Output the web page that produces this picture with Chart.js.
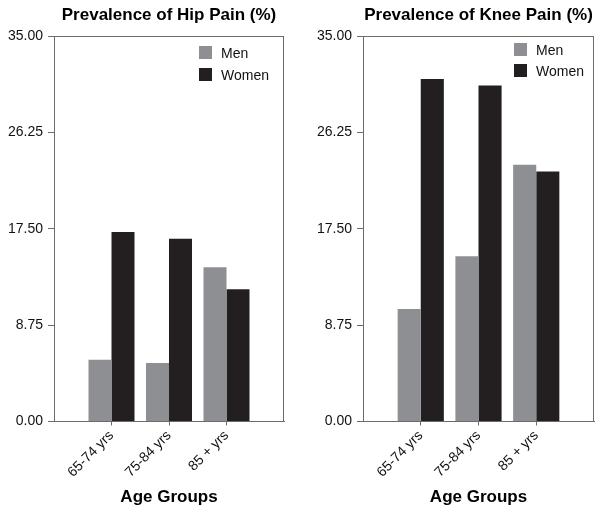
<!DOCTYPE html>
<html>
<head>
<meta charset="utf-8">
<script src="https://cdn.jsdelivr.net/npm/chart.js@4/dist/chart.umd.min.js"></script>
<style>
  body { margin: 0; background: #fff; }
  #wrap { position: relative; width: 601px; height: 511px; }
  canvas { position: absolute; top: 0; }
</style>
</head>
<body>
<div id="wrap">
  <canvas id="hipChart" width="300" height="511" style="left:0"></canvas>
  <canvas id="kneeChart" width="301" height="511" style="left:300px"></canvas>
</div>
<script>
const ageGroups = ['65-74 yrs', '75-84 yrs', '85 + yrs'];
const seriesNames = ['Men', 'Women'];
const hipMen = [5.6, 5.3, 14.0];
const hipWomen = [17.2, 16.6, 12.0];
const kneeMen = [10.2, 15.0, 23.3];
const kneeWomen = [31.1, 30.5, 22.7];
const yTicks = [0, 8.75, 17.5, 26.25, 35];

const FONT = '"Liberation Sans", Arial, sans-serif';
const MEN_COLOR = '#8e8f93';
const WOMEN_COLOR = '#231f20';
const AXIS_COLOR = '#6b6b6b';

Chart.defaults.font.family = FONT;
Chart.defaults.color = '#111';

// box round the plot, title over the plot area, legend inside it
const panelPlugin = {
  id: 'panel',
  afterDraw(chart, args, opts) {
    const { ctx, chartArea: a } = chart;
    ctx.save();
    ctx.strokeStyle = AXIS_COLOR;
    ctx.lineWidth = 1;
    ctx.strokeRect(Math.round(a.left) + 0.5, Math.round(a.top) + 0.5,
      Math.round(a.right - a.left) - 1, Math.round(a.bottom - a.top));

    ctx.fillStyle = '#000';
    ctx.font = 'bold 17px ' + FONT;
    ctx.textAlign = 'center';
    ctx.textBaseline = 'middle';
    ctx.fillText(opts.title, (a.left + a.right) / 2, 15);

    ctx.font = '14px ' + FONT;
    ctx.textAlign = 'left';
    chart.data.datasets.forEach((ds, i) => {
      const x = a.right - opts.legendRight;
      const y = a.top + opts.legendTop + i * opts.legendGap;
      ctx.fillStyle = ds.backgroundColor;
      ctx.fillRect(x, y, 13, 13);
      ctx.fillStyle = '#111';
      ctx.fillText(ds.label, x + 22, y + 8);
    });
    ctx.restore();
  }
};

function makeChart(id, title, men, women, cfg) {
  return new Chart(document.getElementById(id), {
    type: 'bar',
    data: {
      datasets: [
        {
          label: seriesNames[0],
          data: men.map((v, i) => ({ x: i + 1, y: v })),
          backgroundColor: MEN_COLOR,
          categoryPercentage: 0.8,
          barPercentage: 1.0
        },
        {
          label: seriesNames[1],
          data: women.map((v, i) => ({ x: i + 1, y: v })),
          backgroundColor: WOMEN_COLOR,
          categoryPercentage: 0.8,
          barPercentage: 1.0
        }
      ]
    },
    options: {
      responsive: false,
      animation: false,
      layout: { padding: { top: 36, left: 0, right: cfg.padRight, bottom: 3 } },
      plugins: {
        legend: { display: false },
        tooltip: { enabled: false },
        panel: { title: title, legendRight: cfg.legendRight, legendTop: cfg.legendTop, legendGap: cfg.legendGap }
      },
      scales: {
        x: {
          type: 'linear',
          min: 0,
          max: ageGroups.length + 1,
          offset: false,
          afterBuildTicks: axis => { axis.ticks = ageGroups.map((g, i) => ({ value: i + 1 })); },
          ticks: {
            callback: v => ageGroups[v - 1],
            minRotation: 45,
            maxRotation: 45,
            autoSkip: false,
            padding: 2,
            font: { size: 14 }
          },
          grid: { drawOnChartArea: false, offset: false, tickLength: 4, color: AXIS_COLOR },
          border: { color: AXIS_COLOR },
          title: {
            display: true,
            text: 'Age Groups',
            color: '#000',
            font: { size: 17, weight: 'bold' },
            padding: { top: 5, bottom: 0 }
          }
        },
        y: {
          min: 0,
          max: 35,
          afterBuildTicks: axis => { axis.ticks = yTicks.map(v => ({ value: v })); },
          afterFit: axis => { axis.width = cfg.axisWidth; },
          ticks: { callback: v => v.toFixed(2), padding: 5, font: { size: 14 } },
          grid: { drawOnChartArea: false, tickLength: 6, color: AXIS_COLOR },
          border: { color: AXIS_COLOR }
        }
      }
    },
    plugins: [panelPlugin]
  });
}

makeChart('hipChart', 'Prevalence of Hip Pain (%)', hipMen, hipWomen,
  { axisWidth: 54, padRight: 16, legendRight: 85, legendTop: 10, legendGap: 22 });
makeChart('kneeChart', 'Prevalence of Knee Pain (%)', kneeMen, kneeWomen,
  { axisWidth: 63, padRight: 7, legendRight: 80, legendTop: 7, legendGap: 21 });
</script>
</body>
</html>
